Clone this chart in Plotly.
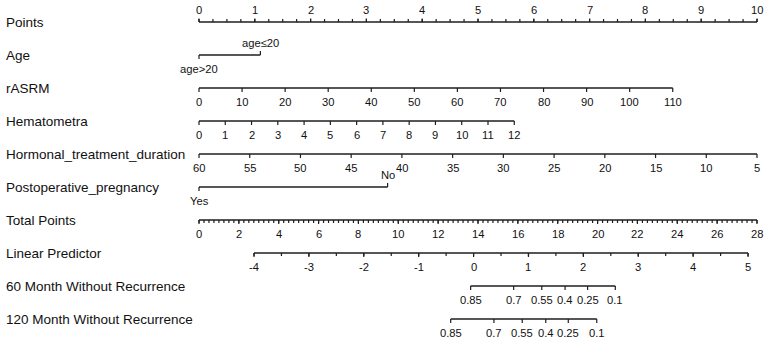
import plotly.graph_objects as go

# ---------------- data ----------------
row_names = ["Points", "Age", "rASRM", "Hematometra", "Hormonal_treatment_duration",
             "Postoperative_pregnancy", "Total Points", "Linear Predictor",
             "60 Month Without Recurrence", "120 Month Without Recurrence"]

points_ticks = list(range(0, 11))          # Points scale 0..10
points_minor_step = 0.25

age_levels = ["age>20", "age\u226420"]
age_points = [0.0, 1.1]

rasrm_values = list(range(0, 111, 10))
rasrm_points_at_max = 8.49                 # points for rASRM = 110

hemat_values = list(range(0, 13))
hemat_points_at_max = 5.65                 # points for Hematometra = 12

hormonal_values = list(range(60, 4, -5))   # 60 -> 0 points, 5 -> 10 points
hormonal_points_range = [0.0, 10.0]

preg_levels = ["Yes", "No"]
preg_points = [0.0, 3.38]

total_ticks = list(range(0, 29, 2))
total_max = 28
total_minor_step = 0.25

lp_values = list(range(-4, 6))
lp_total_range = [2.76, 27.55]             # total points at LP=-4 and LP=5
lp_minor_step = 0.5

m60_probs = ["0.85", "0.7", "0.55", "0.4", "0.25", "0.1"]
m60_total = [13.63, 15.79, 17.20, 18.37, 19.50, 20.89]
m120_probs = ["0.85", "0.7", "0.55", "0.4", "0.25", "0.1"]
m120_total = [12.63, 14.80, 16.22, 17.40, 18.53, 19.96]

# ---------------- layout helpers ----------------
W, H = 767, 341
X0_PX, X10_PX = 199.0, 757.0
ppx = (X10_PX - X0_PX) / 10.0
xr = [-X0_PX / ppx, (W - X0_PX) / ppx]
row_y = [22 + 33 * i for i in range(len(row_names))]
LINE = "#1e1e1e"
TXT = "#111111"
FONT = "Liberation Sans, Arial, Helvetica, sans-serif"

lx, ly = [], []      # axis lines
tx, ty = [], []      # ticks
annotations = []


def seg(xa, ya, xb, yb, store_x, store_y):
    store_x += [xa, xb, None]
    store_y += [ya, yb, None]


def label(x, y, text, side):
    annotations.append(dict(x=x, y=y, xref="x", yref="y", text=text, showarrow=False,
                            xanchor="center", yanchor="middle",
                            yshift=(12.5 if side == "up" else -14),
                            font=dict(family=FONT, size=11.2, color=TXT)))


def scale(row, pos, texts, sides, minor=None, tick_len=4, minor_len=3):
    y = row_y[row]
    seg(min(pos), y, max(pos), y, lx, ly)
    for p, t, s in zip(pos, texts, sides):
        d = -tick_len if s == "up" else tick_len
        seg(p, y, p, y + d, tx, ty)
        label(p, y, t, s)
    if minor:
        side = sides[0]
        for p in minor:
            d = -minor_len if side == "up" else minor_len
            seg(p, y, p, y + d, tx, ty)


def frange(a, b, step):
    n = int(round((b - a) / step))
    return [a + i * step for i in range(n + 1)]


tp = 10.0 / total_max   # total points -> points axis units

# Points
scale(0, points_ticks, [str(v) for v in points_ticks], ["up"] * len(points_ticks),
      minor=frange(0, 10, points_minor_step), tick_len=3.5, minor_len=3)
# Age
scale(1, age_points, age_levels, ["down", "up"])
# rASRM
scale(2, [v / rasrm_values[-1] * rasrm_points_at_max for v in rasrm_values],
      [str(v) for v in rasrm_values], ["down"] * len(rasrm_values))
# Hematometra
scale(3, [v / hemat_values[-1] * hemat_points_at_max for v in hemat_values],
      [str(v) for v in hemat_values], ["down"] * len(hemat_values))
# Hormonal treatment duration
h0, h1 = hormonal_values[0], hormonal_values[-1]
scale(4, [hormonal_points_range[0] + (h0 - v) / (h0 - h1) *
          (hormonal_points_range[1] - hormonal_points_range[0]) for v in hormonal_values],
      [str(v) for v in hormonal_values], ["down"] * len(hormonal_values))
# Postoperative pregnancy
scale(5, preg_points, preg_levels, ["down", "up"])
# Total points
scale(6, [v * tp for v in total_ticks], [str(v) for v in total_ticks],
      ["down"] * len(total_ticks),
      minor=[v * tp for v in frange(0, total_max, total_minor_step)], minor_len=3)
# Linear predictor
lp_per = (lp_total_range[1] - lp_total_range[0]) / (lp_values[-1] - lp_values[0])
lp_to_x = lambda v: (lp_total_range[0] + (v - lp_values[0]) * lp_per) * tp
scale(7, [lp_to_x(v) for v in lp_values], [str(v) for v in lp_values],
      ["down"] * len(lp_values),
      minor=[lp_to_x(v) for v in frange(lp_values[0], lp_values[-1], lp_minor_step)])
# 60 / 120 month
scale(8, [v * tp for v in m60_total], m60_probs, ["down"] * len(m60_probs))
scale(9, [v * tp for v in m120_total], m120_probs, ["down"] * len(m120_probs))

# Row titles
for name, y in zip(row_names, row_y):
    annotations.append(dict(x=4 / W, y=y, xref="paper", yref="y", text=name,
                            showarrow=False, xanchor="left", yanchor="middle",
                            font=dict(family=FONT, size=13.5, color=TXT)))

fig = go.Figure()
fig.add_trace(go.Scatter(x=lx, y=ly, mode="lines", line=dict(color=LINE, width=1.4),
                         hoverinfo="skip", showlegend=False))
fig.add_trace(go.Scatter(x=tx, y=ty, mode="lines", line=dict(color=LINE, width=1.2),
                         hoverinfo="skip", showlegend=False))

fig.update_layout(
    width=W, height=H, autosize=False,
    margin=dict(l=0, r=0, t=0, b=0, pad=0),
    paper_bgcolor="white", plot_bgcolor="white",
    xaxis=dict(range=xr, visible=False, fixedrange=True),
    yaxis=dict(range=[H, 0], visible=False, fixedrange=True),
    annotations=annotations,
    showlegend=False,
)

fig.write_html("out.html")
